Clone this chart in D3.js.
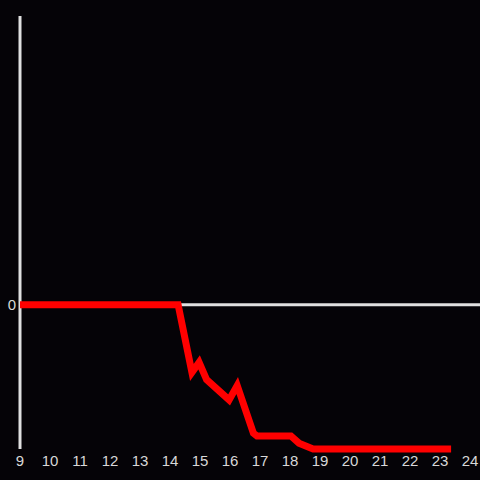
<!DOCTYPE html>
<html>
<head>
<meta charset="utf-8">
<script src="https://cdn.jsdelivr.net/npm/d3@7"></script>
<style>
  html, body { margin: 0; padding: 0; background: #050307; }
  svg { display: block; }
</style>
</head>
<body>
<div id="chart"></div>
<script>
// hours of day and the value at each
var hours = [9, 14.27, 14.73, 14.97, 15.22, 15.97, 16.24, 16.78, 16.9, 18.03, 18.3, 18.77, 23.37];
var values = [0, 0, -0.47, -0.4, -0.52, -0.66, -0.56, -0.89, -0.91, -0.91, -0.96, -1, -1];
var xTicks = [9, 10, 11, 12, 13, 14, 15, 16, 17, 18, 19, 20, 21, 22, 23, 24];
var yTicks = [0];

var width = 480, height = 480;
var margin = { top: 16, right: 10, bottom: 31, left: 20 };

var svg = d3.select("#chart")
  .append("svg")
  .attr("width", width)
  .attr("height", height);

var x = d3.scaleLinear()
  .domain([9, 24])
  .range([margin.left, width - margin.right]);

var y = d3.scaleLinear()
  .domain([-1, 2])
  .range([height - margin.bottom, margin.top]);

var data = hours.map(function (h, i) { return { h: h, v: values[i] }; });

// y axis line
svg.append("line")
  .attr("x1", x(9)).attr("x2", x(9))
  .attr("y1", y(2)).attr("y2", y(-1))
  .attr("stroke", "#e0e0e0")
  .attr("stroke-width", 3);

// zero line
svg.append("line")
  .attr("x1", x(9)).attr("x2", width)
  .attr("y1", y(0)).attr("y2", y(0))
  .attr("stroke", "#e0e0e0")
  .attr("stroke-width", 3);

// x tick labels
svg.append("g")
  .selectAll("text")
  .data(xTicks)
  .enter()
  .append("text")
  .attr("x", function (d) { return x(d); })
  .attr("y", 466)
  .style("fill", "#d8d8d8")
  .style("font-family", "Liberation Sans, Arial, sans-serif")
  .style("font-size", "15px")
  .style("text-anchor", "middle")
  .text(function (d) { return d; });

// y tick labels
svg.append("g")
  .selectAll("text")
  .data(yTicks)
  .enter()
  .append("text")
  .attr("x", x(9) - 4)
  .attr("y", function (d) { return y(d); })
  .attr("dy", "0.35em")
  .style("fill", "#d8d8d8")
  .style("font-family", "Liberation Sans, Arial, sans-serif")
  .style("font-size", "15px")
  .style("text-anchor", "end")
  .text(function (d) { return d; });

var line = d3.line()
  .x(function (d) { return x(d.h); })
  .y(function (d) { return y(d.v); });

svg.append("path")
  .datum(data)
  .attr("d", line)
  .attr("fill", "none")
  .attr("stroke", "#ff0000")
  .attr("stroke-width", 7);
</script>
</body>
</html>
